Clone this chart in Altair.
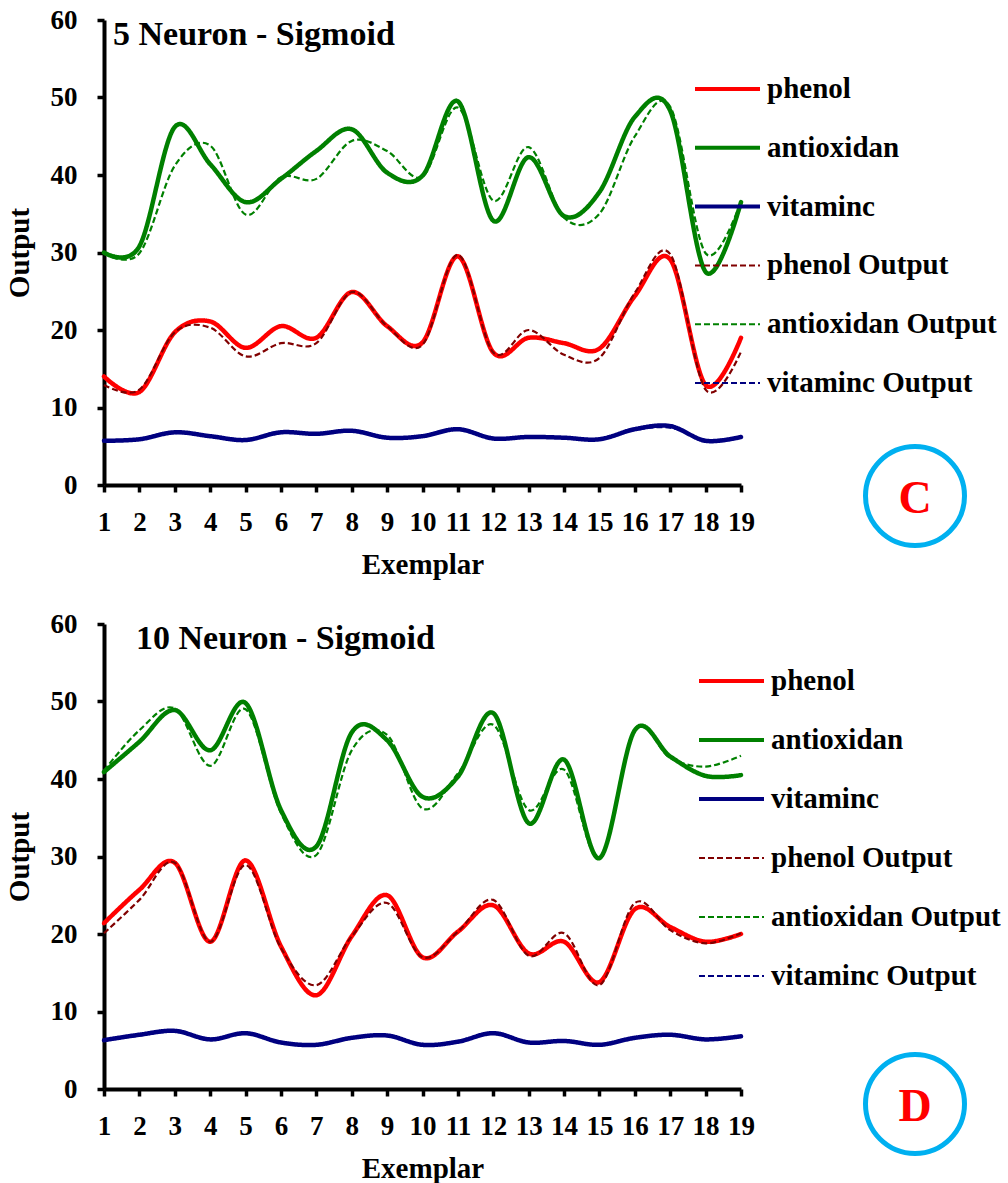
import altair as alt
import pandas as pd

FONT = "Liberation Serif"

exemplar = list(range(1, 20))
series_names = ["phenol", "antioxidan", "vitaminc",
                "phenol Output", "antioxidan Output", "vitaminc Output"]
series_colors = ["#FF0000", "#008000", "#000080", "#800000", "#008000", "#000080"]
series_dash = [[1, 0], [1, 0], [1, 0], [6, 3], [6, 3], [6, 3]]
y_ticks = [0, 10, 20, 30, 40, 50, 60]
panel_titles = ["5 Neuron - Sigmoid", "10 Neuron - Sigmoid"]
panel_tags = ["C", "D"]

# 5 neurons, sigmoid transfer
phenol_5 = [14.0, 12.0, 19.7, 21.1, 17.7, 20.5, 19.0, 24.9, 20.5, 18.4,
            29.5, 17.1, 19.0, 18.3, 17.6, 24.4, 29.1, 12.9, 19.0]
antiox_5 = [30.0, 30.8, 46.2, 41.4, 36.5, 39.5, 43.1, 45.9, 40.3, 39.9,
            49.5, 34.1, 42.3, 34.7, 37.8, 47.5, 48.3, 27.5, 36.5]
vitc_5 = [5.7, 5.9, 6.8, 6.3, 5.8, 6.8, 6.6, 7.0, 6.1, 6.3,
          7.2, 6.0, 6.2, 6.1, 5.9, 7.2, 7.6, 5.7, 6.2]
phenol_out_5 = [12.9, 12.3, 19.7, 20.3, 16.6, 18.3, 18.3, 24.9, 20.5, 18.1,
                29.7, 17.1, 20.0, 16.8, 16.4, 24.8, 29.8, 12.3, 17.2]
antiox_out_5 = [29.9, 29.9, 41.2, 43.8, 34.9, 39.7, 39.5, 44.4, 43.1, 39.8,
                48.7, 36.7, 43.6, 34.5, 35.0, 45.0, 48.8, 29.9, 36.6]
vitc_out_5 = [5.7, 5.9, 6.7, 6.3, 5.9, 6.7, 6.6, 7.0, 6.2, 6.3,
              7.1, 6.0, 6.2, 6.1, 5.9, 7.1, 7.4, 5.8, 6.2]

# 10 neurons, sigmoid transfer
phenol_10 = [21.4, 25.7, 29.2, 19.0, 29.5, 18.4, 12.1, 19.7, 25.0, 17.0,
             20.3, 23.7, 17.5, 19.0, 13.8, 23.2, 20.9, 19.0, 20.0]
antiox_10 = [40.9, 44.8, 48.9, 43.7, 49.8, 36.0, 31.3, 46.0, 45.0, 37.7,
             40.3, 48.5, 34.3, 42.5, 29.8, 46.3, 42.9, 40.4, 40.5]
vitc_10 = [6.3, 7.0, 7.5, 6.4, 7.2, 6.0, 5.7, 6.6, 6.9, 5.7,
           6.1, 7.2, 6.0, 6.2, 5.7, 6.6, 7.0, 6.4, 6.8]
phenol_out_10 = [20.1, 24.4, 29.2, 19.0, 28.9, 18.2, 13.4, 19.7, 24.0, 17.0,
                 20.3, 24.4, 17.2, 20.1, 13.4, 24.0, 20.5, 18.8, 20.1]
antiox_out_10 = [41.1, 46.3, 49.1, 41.7, 49.0, 35.6, 30.2, 43.7, 45.7, 36.2,
                 40.7, 47.0, 36.0, 41.2, 29.8, 46.3, 42.7, 41.6, 43.0]
vitc_out_10 = [6.3, 6.9, 7.4, 6.5, 7.1, 6.0, 5.8, 6.6, 6.9, 5.7,
               6.1, 7.1, 6.0, 6.2, 5.7, 6.6, 6.9, 6.4, 6.8]


def long_table(columns):
    rows = []
    for name, values in zip(series_names, columns):
        for x, v in zip(exemplar, values):
            rows.append({"Exemplar": x, "series": name, "Output": v})
    return pd.DataFrame(rows)


color_enc = alt.Color("series:N", legend=None,
                      scale=alt.Scale(domain=series_names, range=series_colors))
dash_enc = alt.StrokeDash("series:N", legend=None,
                          scale=alt.Scale(domain=series_names, range=series_dash))


def panel(columns, title, tag, width, height,
          legend_x, legend_rows, title_pos, ring_pos):
    df = long_table(columns)
    x_enc = alt.X("Exemplar:Q", scale=alt.Scale(domain=[1, 19], nice=False, zero=False),
                  axis=alt.Axis(values=exemplar, title="Exemplar", format="d"))
    y_enc = alt.Y("Output:Q", scale=alt.Scale(domain=[0, 60], nice=False),
                  axis=alt.Axis(values=y_ticks, title="Output",
                                labelPadding=20, titlePadding=16))
    base = alt.Chart(df).encode(x=x_enc, y=y_enc, color=color_enc, strokeDash=dash_enc)
    solid = base.transform_filter(
        alt.FieldOneOfPredicate(field="series", oneOf=series_names[:3])
    ).mark_line(interpolate="cardinal", strokeWidth=4.5, strokeCap="round")
    dashed = base.transform_filter(
        alt.FieldOneOfPredicate(field="series", oneOf=series_names[3:])
    ).mark_line(interpolate="cardinal", strokeWidth=2.2)
    lines = alt.layer(solid, dashed)

    # legend rows placed with a point scale over the series names
    leg_df = pd.DataFrame({"series": series_names})
    leg_y = alt.Y("series:N", axis=None,
                  scale=alt.Scale(type="point", domain=series_names,
                                  range=legend_rows, padding=0))
    leg_rule = alt.Chart(leg_df).mark_rule().encode(
        x=alt.value(legend_x), x2=alt.value(legend_x + 65), y=leg_y,
        color=color_enc, strokeDash=dash_enc,
        strokeWidth=alt.condition("indexof(datum.series, 'Output') >= 0",
                                  alt.value(2), alt.value(4)),
    )
    leg_text = alt.Chart(leg_df).mark_text(
        align="left", baseline="middle", font=FONT, fontSize=29,
        fontWeight="bold", color="black",
    ).encode(x=alt.value(legend_x + 72), y=leg_y, text="series:N")
    legend = alt.layer(leg_rule, leg_text)

    head = alt.Chart(pd.DataFrame({"label": [title]})).mark_text(
        align="left", baseline="alphabetic", font=FONT, fontSize=34,
        fontWeight="bold", color="black",
    ).encode(x=alt.value(title_pos[0]), y=alt.value(title_pos[1]), text="label:N")

    tag_df = pd.DataFrame({"tag": [tag]})
    ring = alt.Chart(tag_df).mark_point(
        shape="circle", filled=False, size=9800, strokeWidth=5,
        color="#00B0F0", opacity=1,
    ).encode(x=alt.value(ring_pos[0]), y=alt.value(ring_pos[1]))
    letter = alt.Chart(tag_df).mark_text(
        font=FONT, fontSize=46, fontWeight="bold", color="#FF0000",
        align="center", baseline="middle",
    ).encode(x=alt.value(ring_pos[0]), y=alt.value(ring_pos[1] + 3), text="tag:N")

    return alt.layer(lines, legend, head, ring, letter).resolve_scale(
        y="independent"
    ).properties(width=width, height=height)


top = panel([phenol_5, antiox_5, vitc_5, phenol_out_5, antiox_out_5, vitc_out_5],
            panel_titles[0], panel_tags[0], 637, 465,
            591, [69, 363], (9, 25), (811, 476))
bottom = panel([phenol_10, antiox_10, vitc_10, phenol_out_10, antiox_out_10, vitc_out_10],
               panel_titles[1], panel_tags[1], 637, 465,
               595, [57, 352], (32, 25), (811, 480))

chart = alt.vconcat(top, bottom, spacing=31).configure_view(
    stroke=None
).configure_axis(
    grid=False, domainColor="black", domainWidth=4, tickColor="black",
    tickWidth=3.5, tickSize=7, labelFont=FONT, labelFontWeight="bold",
    labelFontSize=27, labelColor="black", titleFont=FONT, titleFontWeight="bold",
    titleFontSize=29, titleColor="black", labelOverlap=False, labelFlush=False,
).configure_axisX(
    labelFontSize=27, labelPadding=17, titlePadding=15,
).properties(
    padding={"left": 5, "top": 6, "right": 0, "bottom": 0}
)

chart.save("out.html", embed_options={"renderer": "svg", "actions": False})
